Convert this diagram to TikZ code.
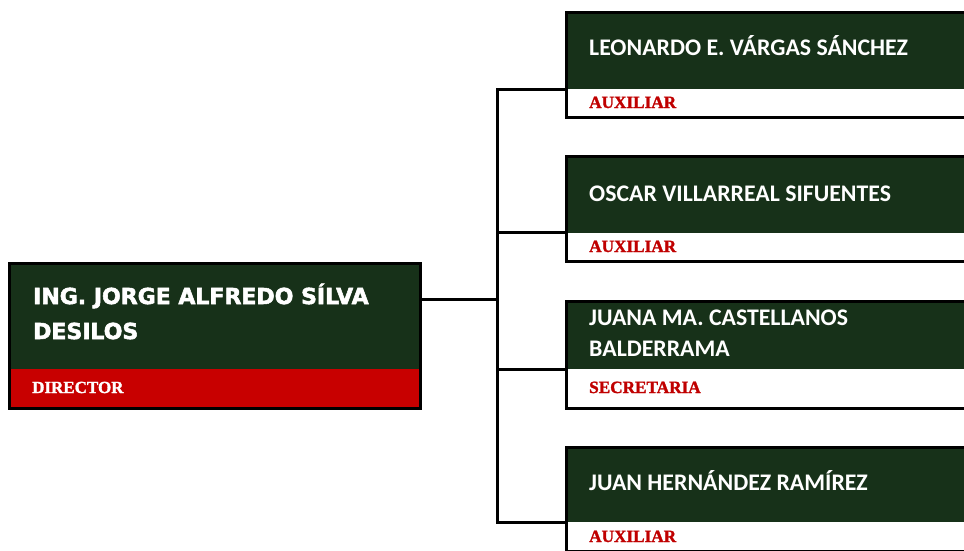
\documentclass[tikz,border=0pt]{standalone}
\usepackage{fontspec}
\setmainfont{Carlito}
\newfontfamily\dirfont[BoldFeatures={FakeBold=2.5}]{DejaVu Sans}
\newfontfamily\rolefont[BoldFeatures={FakeBold=1.5}]{Liberation Serif}
\definecolor{dgreen}{HTML}{173119}
\definecolor{dred}{HTML}{C80000}
\definecolor{tred}{HTML}{C00000}
\begin{document}
\begin{tikzpicture}[x=1pt,y=-1pt,
  boxline/.style={draw=black,line width=3pt,inner sep=0pt,anchor=north west},
  conn/.style={draw=black,line width=3pt},
  nametxt/.style={anchor=base west,inner sep=0pt,text=white,font=\bfseries\fontsize{23.8}{27}\selectfont},
  roletxt/.style={anchor=base west,inner sep=0pt,text=tred,font=\rolefont\bfseries\fontsize{17.2}{19}\selectfont},
  dirtxt/.style={anchor=base west,inner sep=0pt,text=white,font=\dirfont\bfseries\fontsize{22}{25}\selectfont},
]
\useasboundingbox (0,0) rectangle (964,550);
\fill[white] (0,0) rectangle (964,550);
% fills
\fill[dgreen] (8,262) rectangle (419,369);
\fill[dred] (8,369) rectangle (419,407);
\fill[dgreen] (564.5,10.5) rectangle (980,89);
\fill[dgreen] (564.5,155) rectangle (980,232.5);
\fill[dgreen] (564.5,300) rectangle (980,369);
\fill[dgreen] (564.5,446) rectangle (980,522);
% boxes
\node[boxline,minimum width=411pt,minimum height=145pt] (dir) at (8,262) {};
\node[boxline,minimum width=420pt,minimum height=105pt] (b1) at (564.5,10.5) {};
\node[boxline,minimum width=420pt,minimum height=105pt] (b2) at (564.5,155) {};
\node[boxline,minimum width=420pt,minimum height=107pt] (b3) at (564.5,300) {};
\node[boxline,minimum width=420pt,minimum height=104pt] (b4) at (564.5,446) {};
% texts
\node[dirtxt] (dn1) at (33,304) {ING. JORGE ALFREDO SÍLVA};
\node[dirtxt] (dn2) at (33,339) {DESILOS};
\node[anchor=base west,inner sep=0pt,text=white,font=\rolefont\bfseries\fontsize{17}{19}\selectfont] (dr) at (32,393) {DIRECTOR};
\node[nametxt] (n1) at (589,55) {LEONARDO E. VÁRGAS SÁNCHEZ};
\node[roletxt] (r1) at (589,108) {AUXILIAR};
\node[nametxt] (n2) at (589,201) {OSCAR VILLARREAL SIFUENTES};
\node[roletxt] (r2) at (589,252) {AUXILIAR};
\node[nametxt] (n3a) at (589,325) {JUANA MA. CASTELLANOS};
\node[nametxt] (n3b) at (589,356) {BALDERRAMA};
\node[roletxt] (r3) at (589,393) {SECRETARIA};
\node[nametxt] (n4) at (589,490) {JUAN HERNÁNDEZ RAMÍREZ};
\node[roletxt] (r4) at (589,542) {AUXILIAR};
% connectors
\coordinate (ds) at (dir.east |- 0,299);
\coordinate (bus) at (497,299);
\coordinate (j1) at (b1.west |- 0,89);
\coordinate (j2) at (b2.west |- 0,232.5);
\coordinate (j3) at (b3.west |- 0,369);
\coordinate (j4) at (b4.west |- 0,522);
\draw[conn] (ds) -- (bus);
\draw[conn] (j1) -| (bus);
\draw[conn] (j4) -| (bus);
\draw[conn] (j2) -- (bus |- j2);
\draw[conn] (j3) -- (bus |- j3);
\end{tikzpicture}
\end{document}
